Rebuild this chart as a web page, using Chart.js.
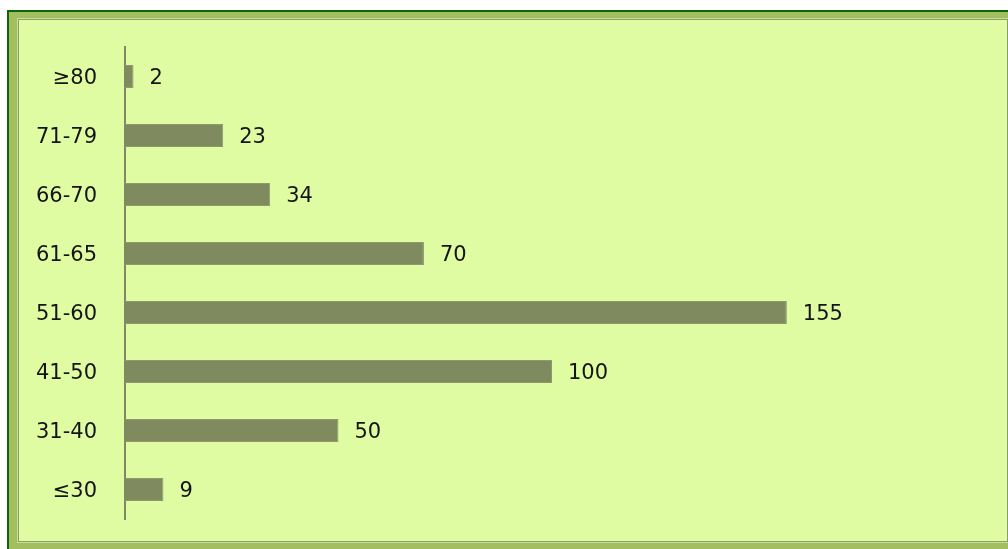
<!DOCTYPE html>
<html>
<head>
  <meta charset="UTF-8">
  <title>Age groups</title>
  <script src="https://cdn.jsdelivr.net/npm/chart.js"></script>
  <style>
    body {
      margin: 0;
      background: #fff;
      width: 1008px;
      height: 549px;
      overflow: hidden;
      position: relative;
    }
    #frame {
      position: absolute;
      left: 7px;
      top: 10px;
      width: 1020px;
      height: 560px;
      border-top: 2px solid #0b650b;
      border-left: 2px solid #0b650b;
      background: #a2be5f;
    }
    #inner {
      position: absolute;
      left: 18px;
      top: 19px;
      width: 988px;
      height: 521px;
      border: 1px solid #8c9a70;
      box-shadow: 0 0 0 1px #c8df94;
      background: #e0fca2;
    }
    canvas {
      position: absolute;
      left: 0;
      top: 0;
    }
  </style>
</head>
<body>

  <div id="frame"></div>
  <div id="inner"></div>
  <canvas id="ageChart" width="1008" height="549"></canvas>

  <script>
    const groups = ["≥80", "71-79", "66-70", "61-65", "51-60", "41-50", "31-40", "≤30"];
    const counts = [2, 23, 34, 70, 155, 100, 50, 9];

    const FONT = "Verdana, 'DejaVu Sans', sans-serif";

    // draws the count just right of each bar
    const valueLabels = {
      id: "valueLabels",
      afterDatasetsDraw(chart) {
        const c = chart.ctx;
        const meta = chart.getDatasetMeta(0);
        c.save();
        c.font = "21px " + FONT;
        c.fillStyle = "#141414";
        c.textAlign = "left";
        c.textBaseline = "middle";
        meta.data.forEach((bar, i) => {
          c.fillText(String(counts[i]), bar.x + 16, bar.y + 2);
        });
        c.restore();
      }
    };

    new Chart(document.getElementById("ageChart"), {
      type: "bar",
      data: {
        labels: groups,
        datasets: [{
          data: counts,
          backgroundColor: "#7f8b5e",
          borderColor: "#8e9a6c",
          borderWidth: 1,
          barPercentage: 0.39,
          categoryPercentage: 1
        }]
      },
      options: {
        indexAxis: "y",
        responsive: false,
        animation: false,
        layout: { padding: { top: 47, bottom: 30, right: 29, left: 0 } },
        plugins: {
          legend: { display: false },
          tooltip: { enabled: false }
        },
        scales: {
          x: { display: false, min: 0, max: 200 },
          y: {
            afterFit(scale) {
              // fixed axis width, and no extra room above/below from tick padding
              scale.width = 125;
              scale.paddingTop = 0;
              scale.paddingBottom = 0;
            },
            grid: { display: false, drawTicks: false },
            border: { display: true, color: "#7d8a62", width: 2 },
            ticks: {
              padding: 28,
              labelOffset: 2,
              color: "#141414",
              font: { size: 21, family: FONT }
            }
          }
        }
      },
      plugins: [valueLabels]
    });
  </script>

</body>
</html>
